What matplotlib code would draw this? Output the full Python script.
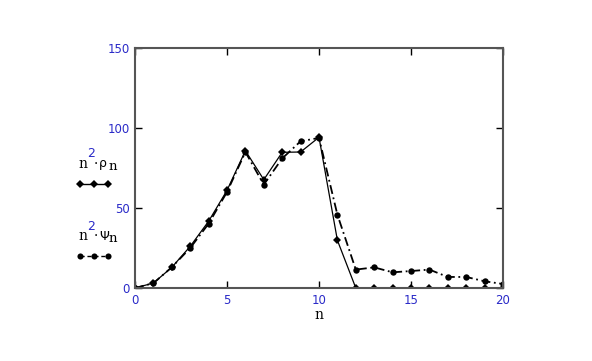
import numpy as np
import matplotlib
matplotlib.use('Agg')
import matplotlib.pyplot as plt
from matplotlib.lines import Line2D

# data
n = np.arange(0, 21)
rho = [0, 3.1, 12.9, 26, 41.7, 61, 85.8, 67.7, 84.8, 85, 94.2, 29.8,
       0, 0, 0, 0, 0, 0, 0, 0, 0]
psi = [0, 3, 13, 25, 40.2, 60, 85, 64.6, 81, 91.7, 93.8, 45.8,
       11.5, 12.9, 9.8, 10.6, 11.5, 6.9, 6.9, 4.2, 2.5]
xticks = [0, 5, 10, 15, 20]
yticks = [0, 50, 100, 150]

W, H = 592, 361
blue = '#2a2ac8'
frame = '#555555'

fig = plt.figure(figsize=(W / 100, H / 100), dpi=100)
ax = fig.add_axes([135 / W, 1 - 288 / H, 368 / W, 240 / H])

ax.plot(n, rho, color='black', linewidth=0.9, marker='D', markersize=4.2,
        markeredgewidth=0)
ax.plot(n, psi, color='black', linewidth=1.3, linestyle=(0, (5, 2, 1, 2)),
        marker='o', markersize=4.6, markeredgewidth=0)

ax.set_xlim(0, 20)
ax.set_ylim(0, 150)
ax.set_xticks(xticks)
ax.set_yticks(yticks)
ax.tick_params(direction='in', length=5, width=1, color='black',
               top=True, right=True, labelcolor=blue, labelsize=8.5, pad=4)
for s in ax.spines.values():
    s.set_color(frame)
    s.set_linewidth(1.5)
ax.set_xlabel('n', fontsize=10, labelpad=1, family='DejaVu Serif')


def px(x, y):
    return x / W, 1 - y / H


# legend drawn by hand, like the original
def legend_entry(ytxt, sym, ymark, style, marker):
    fig.text(*px(78, ytxt), 'n', fontsize=10, family='DejaVu Serif', va='center')
    fig.text(*px(87, ytxt - 10), '2', fontsize=9, color=blue, va='center')
    fig.text(*px(94, ytxt), '·', fontsize=10, family='DejaVu Serif', va='center')
    fig.text(*px(99, ytxt), sym, fontsize=9, family='DejaVu Sans', va='center')
    fig.text(*px(109, ytxt + 3), 'n', fontsize=9.5, family='DejaVu Serif', va='center')
    xs = [80 / W, 94 / W, 108 / W]
    ys = [1 - ymark / H] * 3
    fig.add_artist(Line2D(xs, ys, transform=fig.transFigure, color='black',
                          linewidth=1.0, linestyle=style, marker=marker,
                          markersize=4.4, markeredgewidth=0))


legend_entry(164, 'ρ', 184, '-', 'D')
legend_entry(236, 'Ψ', 256, (0, (3, 2)), 'o')

fig.savefig('out.png', dpi=100)
